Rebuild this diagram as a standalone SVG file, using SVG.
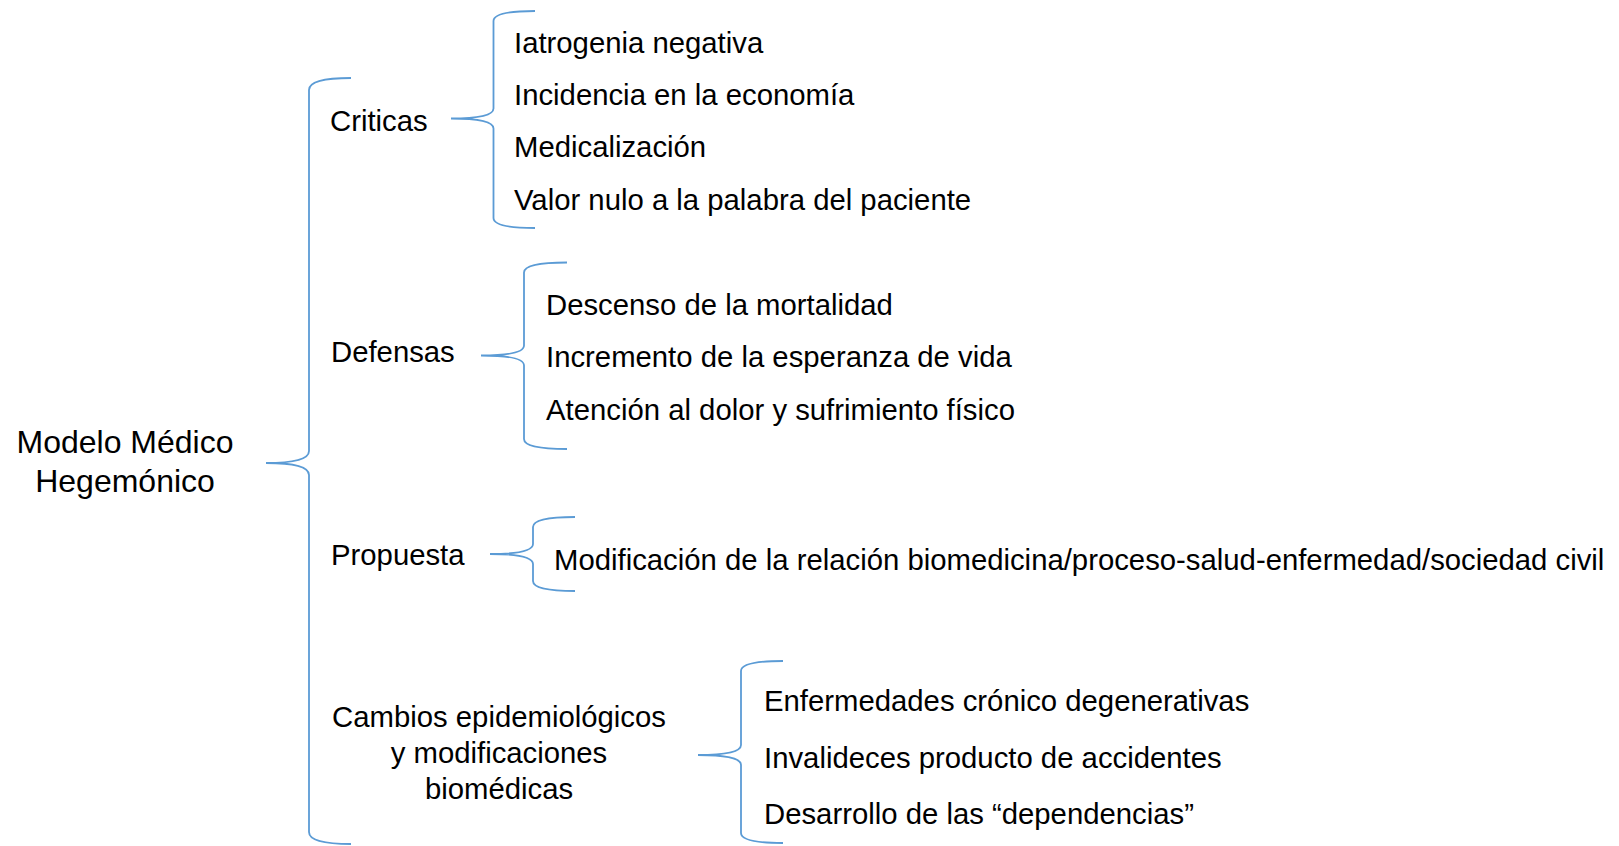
<svg xmlns="http://www.w3.org/2000/svg" width="1619" height="846" viewBox="0 0 1619 846">
<style>
.t{font-family:"Liberation Sans",Arial,sans-serif;font-size:29.3px;fill:#000}
.title{font-size:32px}
.c{text-anchor:middle}
.br{fill:none;stroke:#5B9BD5;stroke-width:1.8}
</style>
<rect width="1619" height="846" fill="#fff"/>
<g id="connectors">
<path class="br" d="M351 78 Q309 78 309 90 L309 451 Q309 463 266 463 Q309 463 309 475 L309 832 Q309 844 351 844"/>
<path class="br" d="M535 11 Q493.5 11 493.5 21 L493.5 108.5 Q493.5 118.5 451 118.5 Q493.5 118.5 493.5 128.5 L493.5 218 Q493.5 228 535 228"/>
<path class="br" d="M567 262.5 Q524 262.5 524 272.5 L524 345.5 Q524 355.5 481 355.5 Q524 355.5 524 365.5 L524 439 Q524 449 567 449"/>
<path class="br" d="M575 517 Q533 517 533 527 L533 544 Q533 554 490 554 Q533 554 533 564 L533 581 Q533 591 575 591"/>
<path class="br" d="M783 661 Q741 661 741 671 L741 745 Q741 755 698 755 Q741 755 741 765 L741 833 Q741 843 783 843"/>
</g>
<g id="root"><text class="t title c" x="125" y="453">Modelo Médico</text><text class="t title c" x="125" y="492">Hegemónico</text></g>
<g id="criticas"><text class="t" x="330" y="131">Criticas</text></g>
<g id="criticas-items">
<text class="t" x="514" y="53">Iatrogenia negativa</text>
<text class="t" x="514" y="105">Incidencia en la economía</text>
<text class="t" x="514" y="157">Medicalización</text>
<text class="t" x="514" y="210">Valor nulo a la palabra del paciente</text>
</g>
<g id="defensas"><text class="t" x="331" y="362">Defensas</text></g>
<g id="defensas-items">
<text class="t" x="546" y="315">Descenso de la mortalidad</text>
<text class="t" x="546" y="367">Incremento de la esperanza de vida</text>
<text class="t" x="546" y="420">Atención al dolor y sufrimiento físico</text>
</g>
<g id="propuesta"><text class="t" x="331" y="565">Propuesta</text></g>
<g id="propuesta-items"><text class="t" x="554" y="570">Modificación de la relación biomedicina/proceso-salud-enfermedad/sociedad civil</text></g>
<g id="cambios">
<text class="t c" x="499" y="727">Cambios epidemiológicos</text>
<text class="t c" x="499" y="763">y modificaciones</text>
<text class="t c" x="499" y="799">biomédicas</text>
</g>
<g id="cambios-items">
<text class="t" x="764" y="711">Enfermedades crónico degenerativas</text>
<text class="t" x="764" y="768">Invalideces producto de accidentes</text>
<text class="t" x="764" y="824">Desarrollo de las “dependencias”</text>
</g>
</svg>
